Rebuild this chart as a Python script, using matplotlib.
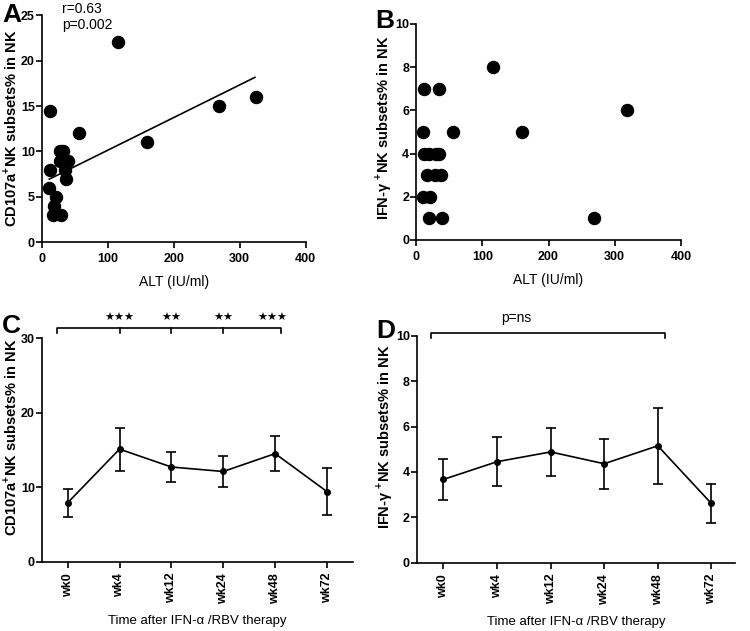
import matplotlib
matplotlib.use("Agg")
import matplotlib.pyplot as plt

plt.rcParams['font.family'] = ['Liberation Sans', 'DejaVu Sans']
plt.rcParams['mathtext.fontset'] = 'custom'
plt.rcParams['mathtext.rm'] = 'Liberation Sans:bold'
plt.rcParams['mathtext.bf'] = 'Liberation Sans:bold'

# panel A: ALT vs CD107a+ NK
alt_a = [115, 12, 56, 160, 268, 325, 12, 11, 22, 18, 17, 29, 28, 33, 28, 40, 35, 37]
cd107a = [22, 14.4, 12, 11, 15, 16, 8, 6, 5, 4, 3, 3, 10, 10, 9, 9, 8, 7]
fit_x = [11.5, 323]
fit_y = [6.95, 18.15]

# panel B: ALT vs IFN-g+ NK
alt_b = [116, 12, 35, 10, 56, 160, 318, 268, 12, 20, 30, 35, 17, 28, 38, 11, 21, 19, 39]
ifng = [8, 7, 7, 5, 5, 5, 6, 1, 4, 4, 4, 4, 3, 3, 3, 2, 2, 1, 1]

# panels C, D: time course
weeks = ['wk0', 'wk4', 'wk12', 'wk24', 'wk48', 'wk72']
cd_mean = [7.9, 15.1, 12.7, 12.1, 14.5, 9.4]
cd_err = [1.85, 2.9, 1.95, 2.05, 2.4, 3.2]
ifn_mean = [3.67, 4.45, 4.88, 4.36, 5.15, 2.61]
ifn_err = [0.92, 1.07, 1.07, 1.1, 1.68, 0.86]
stars = ['\u2605\u2605\u2605', '\u2605\u2605', '\u2605\u2605', '\u2605\u2605\u2605']
star_x = [1, 2, 3, 3.95]

ylab_cd = 'CD107a$^{+}$NK subsets% in NK'
ylab_ifn = 'IFN-\u03b3 $^{+}$NK subsets% in NK'
xlab_time = 'Time after IFN-\u03b1 /RBV therapy'

fig = plt.figure(figsize=(7.5, 6.31), dpi=100)


def style(ax):
    for s in ['top', 'right']:
        ax.spines[s].set_visible(False)
    for s in ['left', 'bottom']:
        ax.spines[s].set_linewidth(1.2)
    ax.tick_params(direction='out', length=4, width=1.2, labelsize=9)
    ax.tick_params(axis='y', pad=1)
    ax.tick_params(axis='x', pad=4)
    for lab in ax.get_xticklabels() + ax.get_yticklabels():
        lab.set_fontweight('bold')


axA = fig.add_axes([0.0556, 0.616, 0.352, 0.360])
axA.scatter(alt_a, cd107a, s=75, color='black', clip_on=False, zorder=3)
axA.plot(fit_x, fit_y, color='black', lw=1.2)
axA.set_xlim(0, 400)
axA.set_ylim(0, 25)
axA.set_xticks([0, 100, 200, 300, 400])
axA.set_yticks([0, 5, 10, 15, 20, 25])
axA.set_xlabel('ALT (IU/ml)', fontsize=10, labelpad=7)
axA.set_ylabel(ylab_cd, fontsize=10.5, fontweight='bold')
axA.yaxis.set_label_coords(-0.086, 0.505)
fig.text(62 / 750, 1 - 2 / 631, 'r=0.63\np=0.002', fontsize=10, va='top', ha='left', linespacing=1.15)
style(axA)

axB = fig.add_axes([0.5547, 0.6197, 0.3533, 0.3423])
axB.scatter(alt_b, ifng, s=75, color='black', clip_on=False, zorder=3)
axB.set_xlim(0, 400)
axB.set_ylim(0, 10)
axB.set_xticks([0, 100, 200, 300, 400])
axB.set_yticks([0, 2, 4, 6, 8, 10])
axB.set_xlabel('ALT (IU/ml)', fontsize=10, labelpad=7)
axB.set_ylabel(ylab_ifn, fontsize=10.5, fontweight='bold')
axB.yaxis.set_label_coords(-0.083, 0.52)
style(axB)

xs = list(range(len(weeks)))

axC = fig.add_axes([0.0556, 0.1098, 0.415, 0.3545])
axC.errorbar(xs, cd_mean, yerr=cd_err, fmt='-o', color='black', ms=4,
             capsize=3.5, lw=1.2, elinewidth=1.2, capthick=1.2)
axC.set_xlim(-0.5, 5.5)
axC.set_ylim(0, 30)
axC.set_yticks([0, 10, 20, 30])
axC.set_xticks(xs)
axC.set_xticklabels(weeks, rotation=90)
axC.set_xlabel(xlab_time, fontsize=9.5, labelpad=8)
axC.set_ylabel(ylab_cd, fontsize=10.5, fontweight='bold')
axC.yaxis.set_label_coords(-0.073, 0.555)
axC.plot([-0.21, -0.21, 4.12, 4.12], [30.7, 31.3, 31.3, 30.7], color='black', lw=1.2, clip_on=False)
for xt in [1, 2, 3]:
    axC.plot([xt, xt], [31.3, 30.7], color='black', lw=1.2, clip_on=False)
for sx, st in zip(star_x, stars):
    axC.text(sx, 32.7, st, fontsize=8, ha='center', va='center', family=['DejaVu Sans'])
style(axC)

axD = fig.add_axes([0.5556, 0.1082, 0.425, 0.3598])
axD.errorbar(xs, ifn_mean, yerr=ifn_err, fmt='-o', color='black', ms=4,
             capsize=3.5, lw=1.2, elinewidth=1.2, capthick=1.2)
axD.set_xlim(-0.5, 5.45)
axD.set_ylim(0, 10)
axD.set_yticks([0, 2, 4, 6, 8, 10])
axD.set_xticks(xs)
axD.set_xticklabels(weeks, rotation=90)
axD.set_xlabel(xlab_time, fontsize=9.5, labelpad=8)
axD.set_ylabel(ylab_ifn, fontsize=10.5, fontweight='bold')
axD.yaxis.set_label_coords(-0.068, 0.555)
axD.plot([-0.23, -0.23, 4.14, 4.14], [9.9, 10.12, 10.12, 9.9], color='black', lw=1.2, clip_on=False)
axD.text(1.36, 10.8, 'p=ns', fontsize=10, ha='center', va='center')
style(axD)

for lx, ly, lab in [(0.003, 0.995, 'A'), (0.5, 0.985, 'B'), (0.003, 0.503, 'C'), (0.501, 0.495, 'D')]:
    fig.text(lx, ly, lab, fontsize=19, fontweight='bold', va='top', ha='left')

fig.savefig('out.png', dpi=100)
